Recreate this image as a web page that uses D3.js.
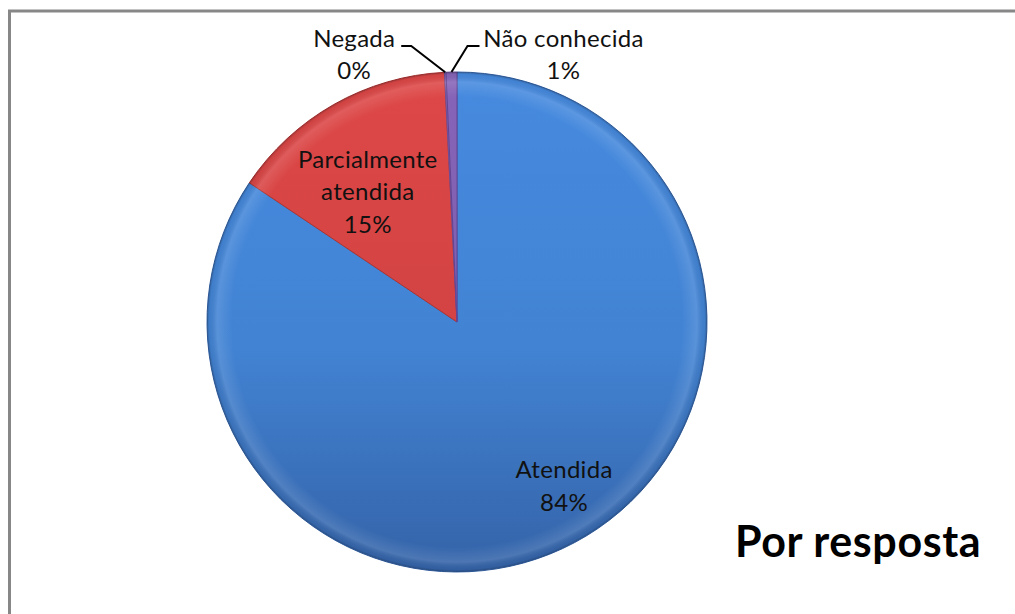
<!DOCTYPE html>
<html>
<head>
<meta charset="utf-8">
<script src="https://cdn.jsdelivr.net/npm/d3@7"></script>
<style>
  body { margin: 0; background: #fff; }
  svg { display: block; }
  text { font-family: Lato, "Open Sans", sans-serif; }
</style>
</head>
<body>
<svg width="1015" height="614"></svg>
<script>
// data
const categories = ["Atendida", "Parcialmente atendida", "Negada", "Não conhecida"]
const values = [84.4, 14.8, 0.1, 0.7]
const colors = ["#4283d3", "#d24343", "#8c6bb8", "#7f5fae"]
const darkColors = ["#3463a8", "#ad3434", "#6c4e96", "#634593"]
const title = "Por resposta"

const svg = d3.select("svg")
const width = +svg.attr("width")
const height = +svg.attr("height")

// frame
svg.append("path")
    .attr("d", "M9.5,1000 V11 H1100")
    .attr("fill", "none")
    .attr("stroke", "#878787")
    .attr("stroke-width", 3)

const cx = 457, cy = 322, radius = 250
const total = d3.sum(values)
const data = categories.map((c, i) => ({ name: c, value: values[i], i: i }))

const pie = d3.pie().sort(null).value(d => d.value)
const arcs = pie(data)
const arc = d3.arc().innerRadius(0).outerRadius(radius)

const defs = svg.append("defs")
colors.forEach((c, i) => {
    let g = defs.append("linearGradient")
        .attr("id", "grad" + i)
        .attr("gradientUnits", "userSpaceOnUse")
        .attr("x1", 0).attr("y1", -radius)
        .attr("x2", 0).attr("y2", radius)
    g.append("stop").attr("offset", "0%").attr("stop-color", d3.color(c).brighter(0.15))
    g.append("stop").attr("offset", "55%").attr("stop-color", c)
    g.append("stop").attr("offset", "100%").attr("stop-color", darkColors[i])
})

// soft bevel near the rim
const bevel = defs.append("radialGradient")
    .attr("id", "bevel")
    .attr("gradientUnits", "userSpaceOnUse")
    .attr("cx", 0).attr("cy", 0).attr("r", radius)
bevel.append("stop").attr("offset", "0%").attr("stop-color", "#fff").attr("stop-opacity", 0)
bevel.append("stop").attr("offset", "90%").attr("stop-color", "#fff").attr("stop-opacity", 0)
bevel.append("stop").attr("offset", "96%").attr("stop-color", "#fff").attr("stop-opacity", 0.12)
bevel.append("stop").attr("offset", "99%").attr("stop-color", "#000").attr("stop-opacity", 0.05)
bevel.append("stop").attr("offset", "100%").attr("stop-color", "#000").attr("stop-opacity", 0.25)

const g = svg.append("g").attr("transform", `translate(${cx},${cy})`)

g.selectAll("path.slice")
    .data(arcs)
    .enter().append("path")
    .attr("class", "slice")
    .attr("d", arc)
    .attr("fill", d => `url(#grad${d.index})`)
    .attr("stroke", d => darkColors[d.index])
    .attr("stroke-width", 1)

g.append("circle")
    .attr("r", radius)
    .attr("fill", "url(#bevel)")
    .attr("pointer-events", "none")

const pct = v => Math.round(v / total * 100) + "%"

// labels inside the big slices
const inner = { 0: 0.785, 1: 0.63 }
const labelTurn = -5 * Math.PI / 180
const lineH = 32.5
arcs.filter(d => inner[d.index] !== undefined).forEach(d => {
    let r = radius * inner[d.index]
    let a = (d.startAngle + d.endAngle) / 2 + labelTurn
    let x = Math.sin(a) * r
    let y = -Math.cos(a) * r
    let lines = d.index === 1 ? ["Parcialmente", "atendida"] : [d.data.name]
    lines.push(pct(d.value))
    let t = g.append("text")
        .attr("text-anchor", "middle")
        .attr("font-size", 24)
        .attr("letter-spacing", 0.3)
        .attr("fill", "#111")
    lines.forEach((l, k) => {
        t.append("tspan")
            .attr("x", x)
            .attr("y", y + (k - (lines.length - 1) / 2) * lineH + 8)
            .text(l)
    })
})

// outside labels for the thin slices, with leader lines
const outside = [{ index: 2, dx: -91, elbow: -34 }, { index: 3, dx: 112, elbow: 16 }]
outside.forEach(o => {
    let d = arcs[o.index]
    let mid = (d.startAngle + d.endAngle) / 2
    let px = Math.sin(mid) * radius
    let py = -Math.cos(mid) * radius
    let tx = px + o.dx
    let ly = -276
    let ex = px + o.elbow
    let hx = o.dx < 0 ? ex - 10 : ex + 12
    g.append("polyline")
        .attr("points", [[px, py], [ex, ly], [hx, ly]].map(p => p.join(",")).join(" "))
        .attr("fill", "none")
        .attr("stroke", "#000")
        .attr("stroke-width", 2)
    let t = g.append("text")
        .attr("text-anchor", "middle")
        .attr("font-size", 24)
        .attr("letter-spacing", 0.3)
        .attr("fill", "#111")
    t.append("tspan").attr("x", tx).attr("y", -275).text(d.data.name)
    t.append("tspan").attr("x", tx).attr("y", -243).text(pct(d.value))
})

svg.append("text")
    .attr("x", 735)
    .attr("y", 557)
    .attr("font-size", 43)
    .attr("letter-spacing", 0.6)
    .attr("font-weight", "bold")
    .attr("fill", "#000")
    .text(title)
</script>
</body>
</html>
